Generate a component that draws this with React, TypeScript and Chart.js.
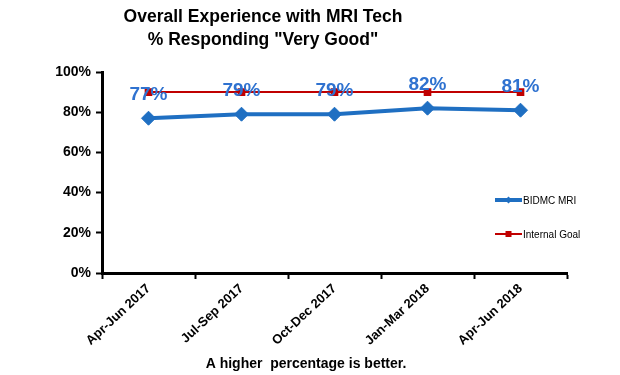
import React, { useEffect, useRef } from "react";
import { Chart, registerables } from "chart.js";

Chart.register(...registerables);

const categories = ["Apr-Jun 2017", "Jul-Sep 2017", "Oct-Dec 2017", "Jan-Mar 2018", "Apr-Jun 2018"];
const bidmcValues = [77, 79, 79, 82, 81];
const goalValues = [90, 90, 90, 90, 90];
const yTicks = [0, 20, 40, 60, 80, 100];
const titleLines = ["Overall Experience with MRI Tech", "% Responding \"Very Good\""];
const footerText = "A higher  percentage is better.";

const BLUE = "#1F6FC2";
const LABEL_BLUE = "#2F72D0";
const RED = "#C00000";

const textPlugin = {
  id: "textPlugin",
  afterDraw(chart: any) {
    const ctx = chart.ctx;
    ctx.save();
    // Title
    ctx.fillStyle = "#000";
    ctx.textAlign = "center";
    ctx.textBaseline = "middle";
    ctx.font = "bold 17.5px 'Liberation Sans', Arial, sans-serif";
    ctx.fillText(titleLines[0], 263, 17);
    ctx.fillText(titleLines[1], 263, 40);
    // Footer
    ctx.font = "bold 14px 'Liberation Sans', Arial, sans-serif";
    ctx.fillText(footerText, 306, 364);

    // Data labels
    const meta = chart.getDatasetMeta(0);
    ctx.font = "bold 19px 'Liberation Sans', Arial, sans-serif";
    ctx.fillStyle = LABEL_BLUE;
    meta.data.forEach((pt: any, i: number) => {
      ctx.fillText(bidmcValues[i] + "%", pt.x, pt.y - 23);
    });

    // Legend
    const ds = chart.data.datasets;
    const items = [
      { ds: ds[0], y: 200 },
      { ds: ds[1], y: 234 },
    ];
    ctx.textAlign = "left";
    ctx.font = "10px 'Liberation Sans', Arial, sans-serif";
    items.forEach(({ ds: d, y }) => {
      ctx.strokeStyle = d.borderColor;
      ctx.lineWidth = d === ds[0] ? 4 : 2;
      ctx.beginPath();
      ctx.moveTo(495, y);
      ctx.lineTo(522, y);
      ctx.stroke();
      ctx.fillStyle = d.pointBackgroundColor;
      if (d.pointStyle === "rectRot") {
        ctx.beginPath();
        ctx.moveTo(505, y);
        ctx.lineTo(508.5, y - 3.5);
        ctx.lineTo(512, y);
        ctx.lineTo(508.5, y + 3.5);
        ctx.closePath();
        ctx.fill();
      } else {
        ctx.fillRect(505.5, y - 3, 6, 6);
      }
      ctx.fillStyle = "#000";
      ctx.fillText(d.label, 523, y + 1);
    });
    ctx.restore();
  },
};

export default function App() {
  const ref = useRef<HTMLCanvasElement>(null);
  useEffect(() => {
    document.body.style.margin = "0";
    const chart = new Chart(ref.current as HTMLCanvasElement, {
      type: "line",
      data: {
        labels: categories,
        datasets: [
          {
            label: "BIDMC MRI",
            data: bidmcValues,
            borderColor: BLUE,
            backgroundColor: BLUE,
            pointBackgroundColor: BLUE,
            pointBorderColor: BLUE,
            borderWidth: 4,
            pointStyle: "rectRot",
            pointRadius: 7,
            pointBorderWidth: 1,
            tension: 0,
            order: 1,
          },
          {
            label: "Internal Goal",
            data: goalValues,
            borderColor: RED,
            backgroundColor: RED,
            pointBackgroundColor: RED,
            pointBorderColor: RED,
            borderWidth: 2,
            pointStyle: "rect",
            pointRadius: 4,
            tension: 0,
            order: 0,
          },
        ],
      },
      options: {
        animation: false,
        responsive: false,
        maintainAspectRatio: false,
        layout: { padding: { left: 0, right: 53, top: 72, bottom: 0 } },
        plugins: {
          legend: { display: false },
          title: { display: false },
          tooltip: { enabled: false },
        },
        scales: {
          x: {
            type: "category",
            offset: true,
            afterFit(scale: any) {
              scale.height = 102;
            },
            grid: {
              offset: true,
              drawOnChartArea: false,
              drawTicks: true,
              tickLength: 6,
              tickColor: "#000",
              tickWidth: 2,
            },
            border: { color: "#000", width: 3 },
            ticks: {
              color: "#000",
              minRotation: 43,
              maxRotation: 43,
              autoSkip: false,
              padding: 2,
              font: { family: "'Liberation Sans', Arial, sans-serif", size: 13, weight: "bold" },
            },
          },
          y: {
            min: 0,
            max: 100,
            afterFit(scale: any) {
              scale.width = 102;
            },
            afterBuildTicks(scale: any) {
              scale.ticks = yTicks.map((v) => ({ value: v }));
            },
            grid: {
              drawOnChartArea: false,
              drawTicks: true,
              tickLength: 6,
              tickColor: "#000",
              tickWidth: 2,
            },
            border: { color: "#000", width: 3 },
            ticks: {
              color: "#000",
              padding: 5,
              callback: (v: any) => v + "%",
              font: { family: "'Liberation Sans', Arial, sans-serif", size: 14, weight: "bold" },
            },
          },
        },
      },
      plugins: [textPlugin],
    } as any);
    return () => chart.destroy();
  }, []);
  return <canvas ref={ref} width={620} height={375} style={{ display: "block" }} />;
}
